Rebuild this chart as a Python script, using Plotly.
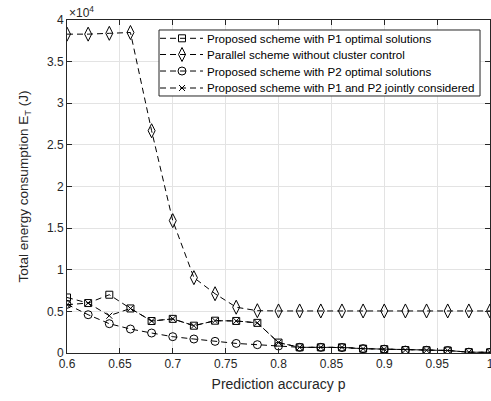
import plotly.graph_objects as go

p = [0.60, 0.62, 0.64, 0.66, 0.68, 0.70, 0.72, 0.74, 0.76, 0.78, 0.80,
     0.82, 0.84, 0.86, 0.88, 0.90, 0.92, 0.94, 0.96, 0.98, 1.00]

# energy in units of 1e4 J
p1_opt = [0.667, 0.60, 0.70, 0.535, 0.384, 0.41, 0.328, 0.388, 0.385, 0.362, 0.125,
          0.068, 0.068, 0.068, 0.052, 0.046, 0.035, 0.033, 0.030, 0.010, 0.008]
parallel = [3.83, 3.83, 3.84, 3.85, 2.67, 1.59, 0.905, 0.712, 0.55, 0.508, 0.505,
            0.505, 0.505, 0.505, 0.505, 0.505, 0.505, 0.505, 0.505, 0.505, 0.505]
p2_opt = [0.585, 0.46, 0.352, 0.288, 0.24, 0.196, 0.168, 0.14, 0.115, 0.10, 0.084,
          0.068, 0.068, 0.065, 0.052, 0.046, 0.035, 0.033, 0.030, 0.010, 0.008]
joint = [0.58, 0.60, 0.448, 0.535, 0.384, 0.41, 0.328, 0.388, 0.385, 0.362, 0.125,
         0.068, 0.068, 0.068, 0.052, 0.046, 0.035, 0.033, 0.030, 0.010, 0.008]

names = ["Proposed scheme with P1 optimal solutions",
         "Parallel scheme without cluster control",
         "Proposed scheme with P2 optimal solutions",
         "Proposed scheme with P1 and P2 jointly considered"]

xticks = [0.6, 0.65, 0.7, 0.75, 0.8, 0.85, 0.9, 0.95, 1.0]
xticktext = ["0.6", "0.65", "0.7", "0.75", "0.8", "0.85", "0.9", "0.95", "1"]
yticks = [0, 0.5, 1, 1.5, 2, 2.5, 3, 3.5, 4]
yticktext = ["0", "0.5", "1", "1.5", "2", "2.5", "3", "3.5", "4"]

symbols = ["square-open", "diamond-tall-open", "circle-open", "x-thin-open"]
sizes = [7, 10, 8, 6]
all_series = [p1_opt, parallel, p2_opt, joint]

DASH = "6px,4px"

fig = go.Figure()
for vals, sym, sz, nm in zip(all_series, symbols, sizes, names):
    fig.add_trace(go.Scatter(
        x=p, y=vals, name=nm, mode="lines+markers", showlegend=False,
        line=dict(color="black", width=1, dash=DASH),
        marker=dict(symbol=sym, size=sz, color="black",
                    line=dict(color="black", width=1)),
    ))

# ---- legend drawn in an overlay frame (fractions of the plot area) ----
L_X0, L_X1, L_Y0, L_Y1 = 0.2175, 0.9764, 0.7718, 0.970
row_y = [0.945, 0.8964, 0.8468, 0.7958]
samp_x0, samp_xm, samp_x1, text_x = 0.2199, 0.2719, 0.3215, 0.3262

fig.add_trace(go.Scatter(
    x=[L_X0, L_X1, L_X1, L_X0, L_X0], y=[L_Y0, L_Y0, L_Y1, L_Y1, L_Y0],
    xaxis="x2", yaxis="y2", mode="lines", fill="toself", fillcolor="white",
    line=dict(color="#262626", width=1), showlegend=False, hoverinfo="skip"))
for ry, sym, sz, nm in zip(row_y, symbols, sizes, names):
    fig.add_trace(go.Scatter(
        x=[samp_x0, samp_x1], y=[ry, ry], xaxis="x2", yaxis="y2", mode="lines",
        line=dict(color="black", width=1, dash=DASH), showlegend=False,
        hoverinfo="skip"))
    fig.add_trace(go.Scatter(
        x=[samp_xm], y=[ry], xaxis="x2", yaxis="y2", mode="markers",
        marker=dict(symbol=sym, size=sz, color="black",
                    line=dict(color="black", width=1)),
        showlegend=False, hoverinfo="skip"))
    fig.add_annotation(text=nm, xref="paper", yref="paper", x=text_x, y=ry,
                       xanchor="left", yanchor="middle", showarrow=False,
                       font=dict(size=11.6, color="black"))

axis_common = dict(
    showline=True, linecolor="#262626", linewidth=1, mirror="ticks",
    ticks="inside", ticklen=5, tickcolor="#262626",
    showgrid=True, gridcolor="#e3e3e3", gridwidth=1, zeroline=False,
    tickfont=dict(family="Liberation Sans, Arial", size=12, color="#262626"),
    automargin=False,
)

fig.update_layout(
    width=491, height=401,
    margin=dict(l=67, r=1, t=20, b=48),
    paper_bgcolor="white", plot_bgcolor="white",
    font=dict(family="Liberation Sans, Arial", color="#262626"),
    xaxis=dict(range=[0.6, 1.0], tickvals=xticks, ticktext=xticktext,
               ticklabeloverflow="allow",
               title=dict(text="Prediction accuracy p", standoff=8,
                          font=dict(size=14, color="#262626")),
               **axis_common),
    yaxis=dict(range=[0, 4], tickvals=yticks, ticktext=yticktext,
               title=dict(text="Total energy consumption E<sub>T</sub> (J)", standoff=15,
                          font=dict(size=13.5, color="#262626")),
               **axis_common),
    xaxis2=dict(overlaying="x", range=[0, 1], visible=False, fixedrange=True),
    yaxis2=dict(overlaying="y", range=[0, 1], visible=False, fixedrange=True),
    showlegend=False,
)

fig.add_annotation(text="×10<sup>4</sup>", xref="paper", yref="paper",
                   x=0, y=1, xanchor="left", yanchor="bottom", yshift=-2,
                   showarrow=False, font=dict(size=12, color="#262626"))

fig.write_html("out.html", config={"displayModeBar": False},
               post_script="document.body.style.margin='0';document.body.style.overflow='hidden';")
